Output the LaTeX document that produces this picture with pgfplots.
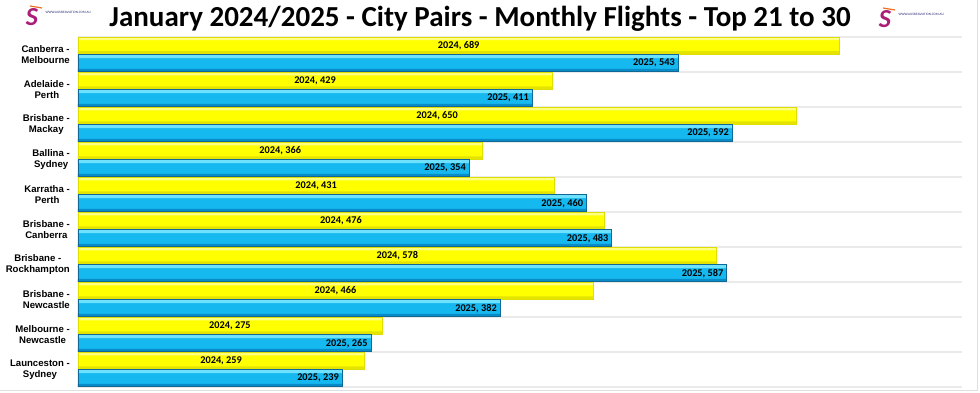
\documentclass[border=0pt]{standalone}
\usepackage{pgfplots}
\pgfplotsset{compat=1.18}
\usepackage{pgfplotstable}
\usepackage{fontspec}
\setmainfont{Carlito}
\newfontfamily\catfont{Liberation Sans}
\definecolor{ybar}{RGB}{255,255,0}
\definecolor{ytop}{RGB}{255,255,130}
\definecolor{ybot}{RGB}{228,228,0}
\definecolor{yedge}{RGB}{222,222,0}
\definecolor{bbar}{RGB}{22,184,240}
\definecolor{btop}{RGB}{110,225,255}
\definecolor{bbot}{RGB}{8,140,200}
\definecolor{bedge}{RGB}{16,104,150}
\definecolor{gridc}{RGB}{234,234,234}
\definecolor{logoc}{RGB}{170,30,120}
\definecolor{logoo}{RGB}{240,110,30}
\definecolor{logot}{RGB}{40,40,120}
\tikzset{lbl/.style={font=\bfseries\fontsize{10.3}{11}\selectfont, text=black, inner sep=0pt}}

\pgfplotstableread{
idx y24 y25
0 689 543
1 429 411
2 650 592
3 366 354
4 431 460
5 476 483
6 578 587
7 466 382
8 275 265
9 259 239
}\flights

\begin{document}
\begin{tikzpicture}
\useasboundingbox (0,0) rectangle (980pt,392pt);
\fill[white] (0,0) rectangle (980pt,392pt);
\draw[gray!25, line width=1pt] (977pt,392pt) -- (977pt,1.5pt) -- (0,1.5pt);
\begin{axis}[
  at={(78pt,5pt)}, anchor=south west,
  scale only axis, width=884pt, height=350pt,
  xmin=0, xmax=800, ymin=-0.5, ymax=9.5,
  y dir=reverse,
  axis line style={draw=none},
  xtick=\empty,
  ytick={0,...,9},
  yticklabels={{Canberra -\\Melbourne},{Adelaide -\\Perth},{Brisbane -\\Mackay},{Ballina -\\Sydney},{Karratha -\\Perth},{Brisbane -\\Canberra},{Brisbane -\\Rockhampton},{Brisbane -\\Newcastle},{Melbourne -\\Newcastle},{Launceston -\\Sydney}},
  yticklabel style={align=center, font=\catfont\bfseries\fontsize{9.6}{11.5}\selectfont, inner sep=0pt, xshift=-8pt},
  minor ytick={-0.5,0.5,...,9.5},
  yminorgrids, minor grid style={draw=gridc, line width=1.6pt},
  major tick length=0pt, minor tick length=0pt,
  clip=false,
]
% 2024 bars (yellow)
\addplot[xbar, bar width=17pt, bar shift=0pt, draw=none, fill=ybar]
  table[x=y24, y expr=\thisrow{idx}-0.25] {\flights};
\addplot[xbar, bar width=3pt, bar shift=0pt, draw=none, fill=ytop]
  table[x=y24, y expr=\thisrow{idx}-0.45] {\flights};
\addplot[xbar, bar width=3pt, bar shift=0pt, draw=none, fill=ybot]
  table[x=y24, y expr=\thisrow{idx}-0.05] {\flights};
\addplot[xbar, bar width=17pt, bar shift=0pt, draw=yedge, line width=0.5pt, fill=none]
  table[x=y24, y expr=\thisrow{idx}-0.25] {\flights};
% 2025 bars (blue)
\addplot[xbar, bar width=17pt, bar shift=0pt, draw=none, fill=bbar]
  table[x=y25, y expr=\thisrow{idx}+0.25] {\flights};
\addplot[xbar, bar width=3.5pt, bar shift=0pt, draw=none, fill=btop]
  table[x=y25, y expr=\thisrow{idx}+0.055] {\flights};
\addplot[xbar, bar width=3pt, bar shift=0pt, draw=none, fill=bbot]
  table[x=y25, y expr=\thisrow{idx}+0.45] {\flights};
\addplot[xbar, bar width=17pt, bar shift=0pt, draw=bedge, line width=0.6pt, fill=none,
  nodes near coords={2025, \pgfplotspointmeta},
  point meta=explicit symbolic,
  every node near coord/.append style={lbl, anchor=east, xshift=-3pt}]
  table[x=y25, y expr=\thisrow{idx}+0.25, meta=y25] {\flights};
% 2024 labels centred in the bars
\addplot[only marks, mark=none,
  nodes near coords={2024, \pgfplotspointmeta},
  point meta=explicit symbolic,
  every node near coord/.append style={lbl, anchor=center}]
  table[x expr=\thisrow{y24}/2, y expr=\thisrow{idx}-0.25, meta=y24] {\flights};
\end{axis}
\node[font=\bfseries\fontsize{29}{32}\selectfont, anchor=center] at (480pt,373pt) {January 2024/2025 - City Pairs - Monthly Flights - Top 21 to 30};
% logos
\node[font=\bfseries\itshape\fontsize{26}{26}\selectfont, text=logoc] at (32pt,375pt) {S};
\draw[logoo, line width=1.2pt] (30pt,386pt) -- (42pt,384pt);
\node[font=\fontsize{3.4}{4}\selectfont, text=logot, anchor=west] at (42pt,380pt) {WWW.AUSSIEAVIATION.COM.AU};
\node[font=\bfseries\itshape\fontsize{26}{26}\selectfont, text=logoc] at (885pt,373pt) {S};
\draw[logoo, line width=1.2pt] (883pt,384pt) -- (895pt,382pt);
\node[font=\fontsize{3.4}{4}\selectfont, text=logot, anchor=west] at (895pt,378pt) {WWW.AUSSIEAVIATION.COM.AU};
\end{tikzpicture}
\end{document}
